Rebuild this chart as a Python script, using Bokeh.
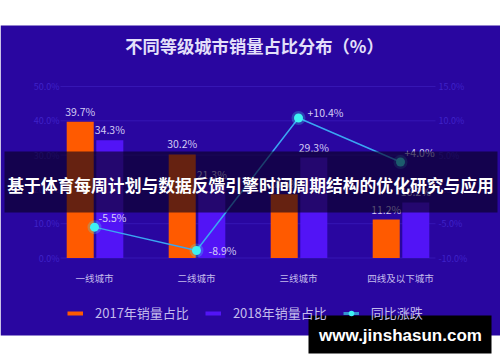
import numpy as np
from bokeh.plotting import figure
from bokeh.models import (ColumnDataSource, Range1d, LinearAxis, FixedTicker, PrintfTickFormatter,
                          BoxAnnotation, Label, Legend, LegendItem)
from bokeh.transform import dodge
from bokeh.core.properties import value
from bokeh.embed import file_html
from bokeh.resources import INLINE

# ---------------- data ----------------
categories = ["一线城市", "二线城市", "三线城市", "四线及以下城市"]
share_2017 = [39.7, 30.2, 18.6, 11.2]
share_2018 = [34.3, 21.3, 29.3, 16.2]
yoy_change = [-5.5, -8.9, 10.4, 4.0]
left_ticks = [0, 10, 20, 30, 40, 50]
right_ticks = [-10, -5, 0, 5, 10, 15]
legend_labels = ["2017年销量占比", "2018年销量占比", "同比涨跌"]
title_text = "不同等级城市销量占比分布（%）"
banner_text = "基于体育每周计划与数据反馈引擎时间周期结构的优化研究与应用"
watermark_text = "www.jinshasun.com"

# ---------------- styles / layout ----------------
W, H = 500, 362
BG = "#2906a0"
ORANGE = "#ff5a00"
PURPLE = "#5214f6"
CYAN = "#3ef2f2"
LINE = "#3aa6f2"
LABEL = "#d4ccf4"
DIM = "#3f22c8"
GRID = "#3616b4"
CJK = "Noto Sans CJK SC"

PX_PER_CAT = 102.0      # pixels per category band
CAT0_PX = 94.0          # pixel x of first category centre
ZERO_PX = 257.5         # pixel y of 0 %
PX_PER_PCT = 3.43       # pixels per 1 % (left axis)
PLOT_L, PLOT_R = 60.0, 435.0

X0 = 0.5 - CAT0_PX / PX_PER_CAT
def px_to_x(px):
    return X0 + px / PX_PER_CAT

y_lo = -(H - ZERO_PX) / PX_PER_PCT
y_hi = ZERO_PX / PX_PER_PCT
# right axis: -10 .. 15 aligned with 0 .. 50 on the left
r_scale = (right_ticks[-1] - right_ticks[0]) / (left_ticks[-1] - left_ticks[0])
r_lo = right_ticks[0] + (y_lo - left_ticks[0]) * r_scale
r_hi = right_ticks[0] + (y_hi - left_ticks[0]) * r_scale

label_dx = [4, 12, 9, 4]
label_dy = [-10, 0, -6, -9]

x_pos = np.arange(len(categories)) + 0.5
src = ColumnDataSource(dict(
    x=x_pos,
    s17=share_2017, s18=share_2018, yoy=yoy_change,
    t17=[f"{v:.1f}%" for v in share_2017],
    t18=[f"{v:.1f}%" for v in share_2018],
    tyoy=[f"{v:+.1f}%" for v in yoy_change],
    dx=label_dx, dy=label_dy,
))

p = figure(width=W, height=H, output_backend="svg", toolbar_location=None,
           x_range=Range1d(X0, px_to_x(W)), y_range=Range1d(y_lo, y_hi),
           min_border=0)
p.border_fill_color = "white"
p.background_fill_color = "white"
p.outline_line_color = None
p.extra_y_ranges = {"yoy": Range1d(r_lo, r_hi)}

# blue panel behind everything
p.add_layout(BoxAnnotation(left=0, right=500, top=25, bottom=335,
                           left_units="canvas", right_units="canvas",
                           top_units="canvas", bottom_units="canvas",
                           fill_color=BG, fill_alpha=1, line_color=None, level="image"))

def style_axis(ax, standoff, color, size):
    ax.axis_line_color = None
    ax.major_tick_line_color = None
    ax.minor_tick_line_color = None
    ax.major_tick_out = 0
    ax.major_tick_in = 0
    ax.major_label_standoff = standoff
    ax.major_label_text_color = color
    ax.major_label_text_font = CJK
    ax.major_label_text_font_size = size

# axes (fixed inside the frame)
xa = p.xaxis[0]
xa.ticker = FixedTicker(ticks=list(x_pos))
xa.major_label_overrides = {float(x): c for x, c in zip(x_pos, categories)}
xa.fixed_location = 0
style_axis(xa, 13, "#c4bcec", "9.5px")

ya = p.yaxis[0]
ya.ticker = FixedTicker(ticks=left_ticks)
ya.formatter = PrintfTickFormatter(format="%.1f%%")
ya.fixed_location = px_to_x(PLOT_L)
style_axis(ya, 1, DIM, "9px")

ra = LinearAxis(y_range_name="yoy", ticker=FixedTicker(ticks=right_ticks),
                formatter=PrintfTickFormatter(format="%.1f%%"))
ra.fixed_location = px_to_x(PLOT_R)
style_axis(ra, 3, DIM, "9px")
p.add_layout(ra, "right")

p.xgrid.visible = False
p.ygrid.visible = False
# horizontal grid lines at the left-axis ticks, across the plot area only
p.segment(x0=px_to_x(PLOT_L), x1=px_to_x(PLOT_R), y0=left_ticks, y1=left_ticks,
          line_color=GRID, line_width=1)

# bars
p.vbar(x=dodge("x", -0.14, range=p.x_range), top="s17", width=0.265, source=src,
       fill_color=ORANGE, line_color=None)
p.vbar(x=dodge("x", 0.15, range=p.x_range), top="s18", width=0.265, source=src,
       fill_color=PURPLE, line_color=None)
p.text(x=dodge("x", -0.14, range=p.x_range), y="s17", text="t17", source=src,
       y_offset=-3, text_align="center", text_baseline="bottom",
       text_color=LABEL, text_font=value(CJK), text_font_size="10.5px")
p.text(x=dodge("x", 0.15, range=p.x_range), y="s18", text="t18", source=src,
       y_offset=-3, text_align="center", text_baseline="bottom",
       text_color=LABEL, text_font=value(CJK), text_font_size="10.5px")

# yoy line
p.line(x="x", y="yoy", y_range_name="yoy", source=src, line_color=LINE, line_width=1.5)
p.scatter(x="x", y="yoy", y_range_name="yoy", source=src, size=14,
          fill_color=CYAN, fill_alpha=0.25, line_color=None)
p.scatter(x="x", y="yoy", y_range_name="yoy", source=src, size=9,
          fill_color=CYAN, line_color=None)
p.text(x="x", y="yoy", y_range_name="yoy", text="tyoy", source=src,
       x_offset="dx", y_offset="dy", text_align="left", text_baseline="middle",
       text_color=LABEL, text_font=value(CJK), text_font_size="10.5px")

# legend swatches: hidden renderers on the same data, shown only in the legend
sw17 = p.line(x="x", y="s17", source=src, line_color=ORANGE, line_width=4, visible=False)
sw18 = p.line(x="x", y="s18", source=src, line_color=PURPLE, line_width=4, visible=False)
swl = p.line(x="x", y="yoy", y_range_name="yoy", source=src, line_color=CYAN,
             line_width=3, line_alpha=0.6, visible=False)
swm = p.scatter(x="x", y="yoy", y_range_name="yoy", source=src, size=7,
                fill_color=CYAN, line_color=None, visible=False)
legend = Legend(items=[LegendItem(label=legend_labels[0], renderers=[sw17]),
                       LegendItem(label=legend_labels[1], renderers=[sw18]),
                       LegendItem(label=legend_labels[2], renderers=[swl, swm])],
                location=(67, 40), orientation="horizontal",
                glyph_width=16, glyph_height=14, label_height=14,
                label_standoff=12, spacing=16,
                padding=0, margin=0, border_line_alpha=0, background_fill_alpha=0,
                inactive_fill_alpha=0,
                label_text_color="#c4bcec", label_text_font=CJK, label_text_font_size="13px")
p.add_layout(legend)

# title
p.add_layout(Label(x=254, y=45, x_units="canvas", y_units="canvas", text=title_text,
                   text_align="center", text_baseline="middle", text_color="#e4e0fa",
                   text_font=CJK, text_font_size="17.3px", text_font_style="bold"))

# banner overlay
p.add_layout(BoxAnnotation(left=4, right=497, top=151, bottom=212,
                           left_units="canvas", right_units="canvas",
                           top_units="canvas", bottom_units="canvas",
                           fill_color="#08001c", fill_alpha=0.62, line_color=None, level="overlay"))
banner = Label(x=250, y=184, x_units="canvas", y_units="canvas", text=banner_text,
               text_align="center", text_baseline="middle", text_color="white",
               text_font=CJK, text_font_size="16.8px", text_font_style="bold")
banner.level = "overlay"
p.add_layout(banner)

# watermark
p.add_layout(BoxAnnotation(left=308, right=491, top=315, bottom=353,
                           left_units="canvas", right_units="canvas",
                           top_units="canvas", bottom_units="canvas",
                           fill_color="black", fill_alpha=1, line_color=None, level="overlay"))
wm = Label(x=400, y=335, x_units="canvas", y_units="canvas", text=watermark_text,
           text_align="center", text_baseline="middle", text_color="white",
           text_font="Liberation Sans", text_font_size="17px", text_font_style="bold")
wm.level = "overlay"
p.add_layout(wm)

open("out.html", "w").write(file_html(p, INLINE))
